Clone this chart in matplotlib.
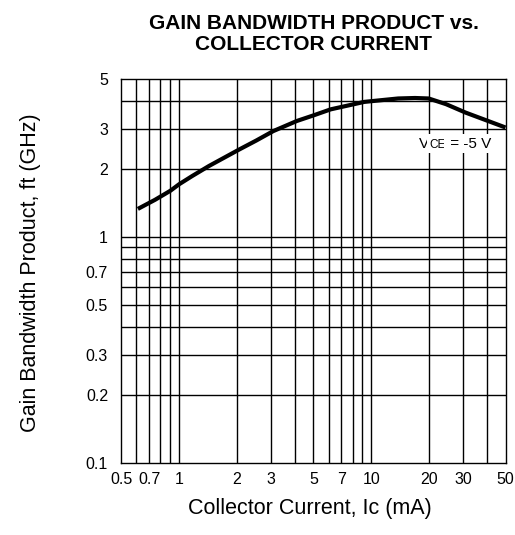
import numpy as np
import matplotlib
matplotlib.use('Agg')
import matplotlib.pyplot as plt
from matplotlib.ticker import FixedLocator, NullLocator

plt.rcParams['font.family'] = ['Liberation Sans', 'DejaVu Sans']

# Curve
ic_ma = [0.61, 0.75, 0.9, 1.0, 1.17, 1.43, 2.06, 2.52, 3.09, 4.1, 5.0, 6.15, 9.2, 13.8,
         16.9, 19.9, 24.5, 31.0, 50.0]
ft_ghz = [1.33, 1.46, 1.6, 1.71, 1.86, 2.06, 2.44, 2.67, 2.94, 3.26, 3.45, 3.67, 3.96, 4.1,
          4.12, 4.1, 3.87, 3.55, 3.05]

x_ticks = [0.5, 0.7, 1, 2, 3, 5, 7, 10, 20, 30, 50]
x_tick_labels = ['0.5', '0.7', '1', '2', '3', '5', '7', '10', '20', '30', '50']
x_grid = [0.6, 0.7, 0.8, 0.9, 1, 2, 3, 4, 5, 6, 7, 8, 9, 10, 20, 30, 40]
y_ticks = [0.1, 0.2, 0.3, 0.5, 0.7, 1, 2, 3, 5]
y_tick_labels = ['0.1', '0.2', '0.3', '0.5', '0.7', '1', '2', '3', '5']
y_grid = [0.2, 0.3, 0.4, 0.5, 0.6, 0.7, 0.8, 0.9, 1, 2, 3, 4]

fig = plt.figure(figsize=(5.15, 5.35), dpi=100)
ax = fig.add_axes([0.2355, 0.1351, 0.7461, 0.7172])
ax.set_xscale('log')
ax.set_yscale('log')
ax.set_xlim(0.5, 50)
ax.set_ylim(0.1, 5)

for x in x_grid:
    ax.axvline(x, color='black', lw=1.0, zorder=1)
for y in y_grid:
    ax.axhline(y, color='black', lw=1.0, zorder=1)

ax.plot(ic_ma, ft_ghz, color='black', lw=3.0, solid_capstyle='butt',
        solid_joinstyle='round', zorder=3)

ax.xaxis.set_major_locator(FixedLocator(x_ticks))
ax.xaxis.set_minor_locator(NullLocator())
ax.set_xticklabels(x_tick_labels)
ax.yaxis.set_major_locator(FixedLocator(y_ticks))
ax.yaxis.set_minor_locator(NullLocator())
ax.set_yticklabels(y_tick_labels)
ax.tick_params(length=0, labelsize=11.5)
ax.tick_params(axis='x', pad=7)
ax.tick_params(axis='y', pad=9.5)
for s in ax.spines.values():
    s.set_linewidth(1.0)

# V_CE annotation, CE drawn smaller on the baseline
box = dict(facecolor='white', edgecolor='none', pad=1.5)
t1 = ax.text(17.8, 2.59, 'V', fontsize=11, va='center', ha='left', zorder=4, bbox=box)
t2 = ax.annotate('CE', xy=(1, 0), xycoords=t1, fontsize=8.5, va='bottom', ha='left',
                 zorder=4, bbox=box)
t3 = ax.annotate(' = -5 V', xy=(1, 0), xycoords=t2, fontsize=11, va='bottom', ha='left',
                 zorder=4, bbox=box)

fig.text(0.609, 0.9364, 'GAIN BANDWIDTH PRODUCT vs.\nCOLLECTOR CURRENT', fontsize=15,
         fontweight='bold', ha='center', va='center', linespacing=1.15)
fig.text(0.602, 0.0486, 'Collector Current, Ic (mA)', fontsize=15.5,
         ha='center', va='center')
fig.text(0.060, 0.4907, 'Gain Bandwidth Product, ft (GHz)', fontsize=15.5, rotation=90,
         ha='center', va='center')

fig.savefig('out.png', dpi=100)
